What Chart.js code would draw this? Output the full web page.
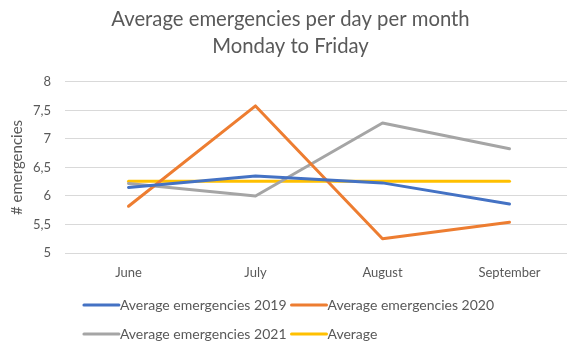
<!DOCTYPE html>
<html>
<head>
<meta charset="utf-8">
<script src="https://cdn.jsdelivr.net/npm/chart.js@4/dist/chart.umd.min.js"></script>
<style>
  html, body { margin: 0; padding: 0; background: #fff; overflow: hidden; }
  #wrap { width: 575px; height: 345px; }
</style>
</head>
<body>
<div id="wrap"><canvas id="c" width="575" height="345"></canvas></div>
<script>
// Months shown on the x axis
const months = ['June', 'July', 'August', 'September'];

// Average emergencies per weekday, per month and year
const emergencies2019 = [6.15, 6.35, 6.23, 5.86];
const emergencies2020 = [5.82, 7.58, 5.25, 5.54];
const emergencies2021 = [6.22, 6.00, 7.28, 6.83];
const overallAverage  = [6.26, 6.26, 6.26, 6.26];

const seriesNames = [
  'Average emergencies 2019',
  'Average emergencies 2020',
  'Average emergencies 2021',
  'Average'
];
const seriesColors = ['#4472C4', '#ED7D31', '#A5A5A5', '#FFC000'];

const FONT = 'Lato, "Open Sans", sans-serif';
const TEXT = '#595959';

// Two-column legend underneath the plot, columns aligned
const gridLegend = {
  id: 'gridLegend',
  afterDraw(chart) {
    const ctx = chart.ctx;
    const sets = chart.data.datasets;
    ctx.save();
    ctx.font = '14px ' + FONT;
    ctx.textBaseline = 'middle';
    const lineLen = 35, gap = 1, colGap = 5;
    const w = sets.map(d => ctx.measureText(d.label).width);
    const col1 = lineLen + gap + Math.max(w[0], w[2]) + colGap;
    const col2 = lineLen + gap + Math.max(w[1], w[3]);
    const total = col1 + col2;
    const x0 = 289 - total / 2;
    const rows = [305, 334];
    sets.forEach((d, i) => {
      const x = x0 + (i % 2) * col1;
      const y = rows[Math.floor(i / 2)];
      ctx.strokeStyle = d.borderColor;
      ctx.lineWidth = 3;
      ctx.lineCap = 'round';
      ctx.beginPath();
      ctx.moveTo(x, y);
      ctx.lineTo(x + lineLen, y);
      ctx.stroke();
      ctx.fillStyle = TEXT;
      ctx.fillText(d.label, x + lineLen + gap, y);
    });
    ctx.restore();
  }
};

const values = [emergencies2019, emergencies2020, emergencies2021, overallAverage];

new Chart(document.getElementById('c'), {
  type: 'line',
  data: {
    labels: months,
    datasets: values.map((v, i) => ({
      label: seriesNames[i],
      data: v,
      borderColor: seriesColors[i],
      backgroundColor: seriesColors[i],
      borderWidth: 3,
      pointRadius: 0,
      tension: 0,
      borderCapStyle: 'round',
      borderJoinStyle: 'round'
    }))
  },
  options: {
    responsive: false,
    animation: false,
    layout: { padding: { top: 0, bottom: 62, left: 8, right: 2 } },
    plugins: {
      legend: { display: false },
      tooltip: { enabled: false },
      title: {
        display: true,
        text: ['Average emergencies per day per month', 'Monday to Friday'],
        color: TEXT,
        font: { family: FONT, size: 20.3, weight: 'normal', lineHeight: 1.33 },
        padding: { top: 6, bottom: 22 }
      }
    },
    scales: {
      x: {
        offset: true,
        grid: { display: false, drawTicks: false, offset: true },
        border: { display: false },
        ticks: { color: TEXT, font: { family: FONT, size: 13 }, padding: 12 },
        afterFit(s) { s.height = 30; }
      },
      y: {
        min: 5, max: 8,
        grid: { color: '#D9D9D9', lineWidth: 1, drawTicks: false },
        border: { display: false },
        ticks: {
          stepSize: 0.5,
          color: TEXT,
          font: { family: FONT, size: 13 },
          padding: 14,
          callback: v => String(v).replace('.', ',')
        },
        title: {
          display: true,
          text: '# emergencies',
          color: TEXT,
          font: { family: FONT, size: 15 },
          padding: { top: 0, bottom: 0 }
        },
        afterFit(s) { s.width = 57; }
      }
    }
  },
  plugins: [gridLegend]
});
</script>
</body>
</html>
